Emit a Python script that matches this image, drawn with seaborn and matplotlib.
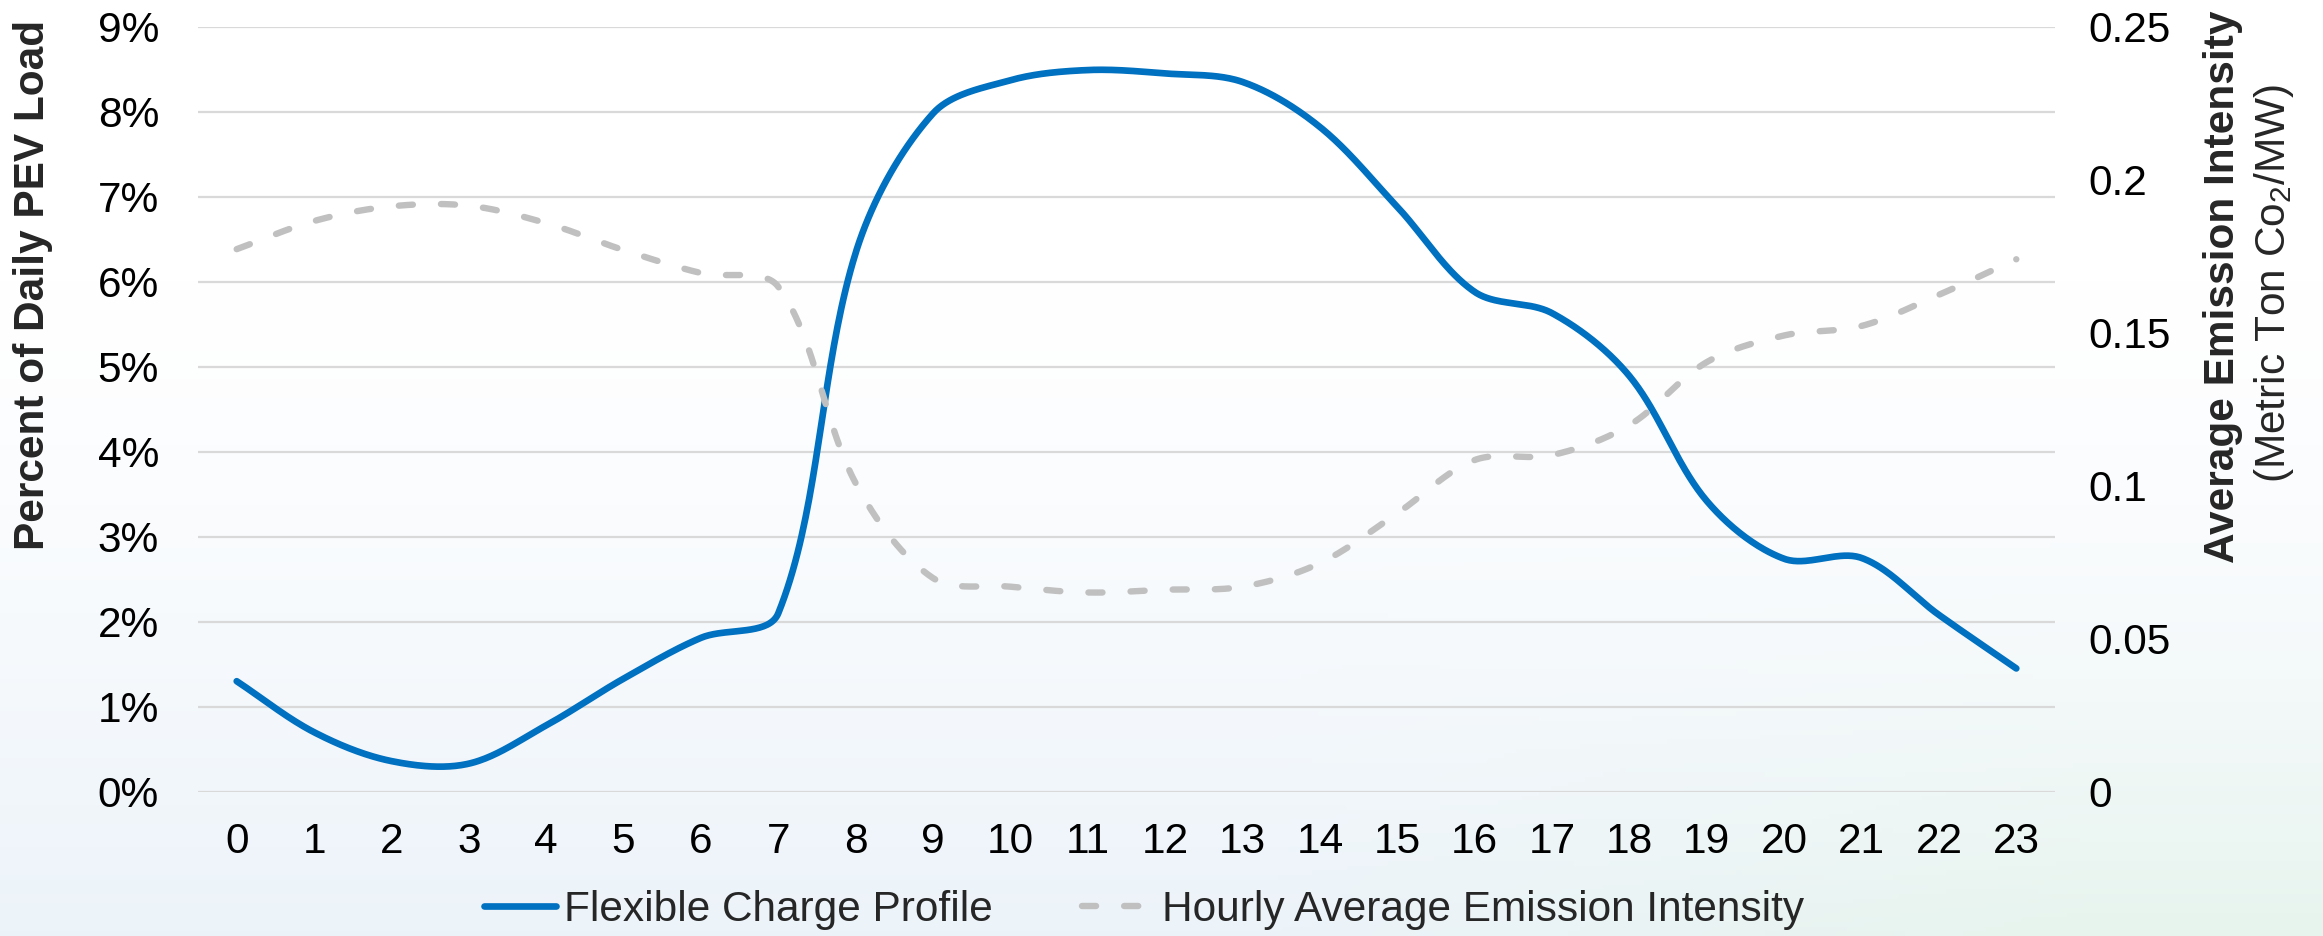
import numpy as np
import matplotlib
matplotlib.use("Agg")
import matplotlib.pyplot as plt
import seaborn as sns
from matplotlib.lines import Line2D
from matplotlib.ticker import FuncFormatter

# data
hours = list(range(24))
charge_pct = [1.30, 0.70, 0.36, 0.33, 0.78, 1.33, 1.81, 2.10, 6.34, 7.98, 8.37, 8.49,
              8.45, 8.35, 7.82, 6.88, 5.88, 5.63, 4.89, 3.42, 2.74, 2.75, 2.08, 1.45]
emission = [0.1773, 0.1865, 0.1913, 0.1915, 0.1858, 0.1770, 0.1695, 0.1650, 0.1008, 0.0698,
            0.0670, 0.0651, 0.0660, 0.0670, 0.0747, 0.0910, 0.1084, 0.1100, 0.1198, 0.1404,
            0.1491, 0.1522, 0.1624, 0.1740]
left_ticks = list(range(10))
right_ticks = [0, 0.05, 0.1, 0.15, 0.2, 0.25]
series_names = ["Flexible Charge Profile", "Hourly Average Emission Intensity"]

BLUE = "#0070C0"
GRAY = "#C0C0C0"
FS = 30.5
DASH = (2.2, 4.4)


def smooth(xv, yv, sx, sy, n=40):
    """Excel-like smoothed line: bezier segments with chord weighted tangents (screen space)"""
    p = np.column_stack([np.asarray(xv, float) * sx, np.asarray(yv, float) * sy])
    k = len(p)
    out = []
    for i in range(k - 1):
        p0 = p[max(i - 1, 0)]
        p1, p2 = p[i], p[i + 1]
        p3 = p[min(i + 2, k - 1)]
        l01 = np.linalg.norm(p1 - p0)
        l12 = np.linalg.norm(p2 - p1)
        l23 = np.linalg.norm(p3 - p2)
        w1 = l12 / (l01 + l12) if l01 + l12 > 0 else 0.5
        w2 = l12 / (l12 + l23) if l12 + l23 > 0 else 0.5
        c1 = p1 + (p2 - p0) * w1 / 3
        c2 = p2 - (p3 - p1) * w2 / 3
        t = np.linspace(0, 1, n)[:, None]
        seg = (1 - t) ** 3 * p1 + 3 * (1 - t) ** 2 * t * c1 + 3 * (1 - t) * t ** 2 * c2 + t ** 3 * p2
        out.append(seg if i == 0 else seg[1:])
    pts = np.vstack(out)
    return pts[:, 0] / sx, pts[:, 1] / sy


sns.set_style("white")
plt.rcParams["font.family"] = ["Liberation Sans", "DejaVu Sans"]
plt.rcParams["mathtext.fontset"] = "custom"
plt.rcParams["mathtext.rm"] = "Liberation Sans"
plt.rcParams["mathtext.it"] = "Liberation Sans:italic"

fig = plt.figure(figsize=(23.23, 9.36), dpi=100)
W, H = 2323, 936

# soft background wash
bg = fig.add_axes([0, 0, 1, 1], zorder=-10)
u = np.linspace(0, 1, 400)[None, :]
v = np.linspace(0, 1, 200)[:, None]
t = np.clip((v - 0.30) / 0.70, 0, 1) ** 1.3
g = np.clip((u - 0.55) / 0.35, 0, 1) * np.clip((v - 0.55) / 0.45, 0, 1)
blue_tint = np.array([0.925, 0.953, 0.978])
green_tint = np.array([0.905, 0.958, 0.930])
tint = blue_tint * (1 - g[..., None]) + green_tint * g[..., None]
img = (1 - t[..., None]) * 1.0 + t[..., None] * tint
bg.imshow(img, extent=[0, 1, 0, 1], aspect="auto", origin="upper")
bg.axis("off")

ax = fig.add_axes([198 / W, 1 - 791.7 / H, (2055 - 198) / W, (791.7 - 26.7) / H])
ax.set_facecolor("none")
ax2 = ax.twinx()
ax2.set_facecolor("none")

ax.set_xlim(-0.5, 23.5)
ax.set_ylim(0, 9)
ax2.set_ylim(0, 0.25)

ax_w = (2055 - 198)
ax_h = (791.7 - 26.7)
sx = ax_w / 24.0

xs, ys = smooth(hours, charge_pct, sx, ax_h / 9.0)
sns.lineplot(x=xs, y=ys, ax=ax, sort=False, estimator=None, color=BLUE,
             linewidth=4.8, solid_capstyle="round")
xs2, ys2 = smooth(hours, emission, sx, ax_h / 0.25)
sns.lineplot(x=xs2, y=ys2, ax=ax2, sort=False, estimator=None, color=GRAY,
             linewidth=4.6, dashes=False)
ax2.lines[0].set_dashes(DASH)
ax2.lines[0].set_dash_capstyle("round")

ax.set_xticks(hours)
ax.set_xticklabels([str(h) for h in hours])
ax.set_yticks(left_ticks)
ax.yaxis.set_major_formatter(FuncFormatter(lambda val, pos: f"{val:.0f}%"))
ax2.set_yticks(right_ticks)
ax2.yaxis.set_major_formatter(FuncFormatter(lambda val, pos: f"{val:g}"))

ax.grid(axis="y", color="#D9D9D9", linewidth=1.6)
ax.grid(axis="x", visible=False)
ax2.grid(False)
ax.set_axisbelow(True)
for a in (ax, ax2):
    for s in a.spines.values():
        s.set_visible(False)
ax.tick_params(axis="y", length=0, pad=28, labelsize=FS, labelcolor="black")
ax.tick_params(axis="x", length=0, pad=22, labelsize=FS, labelcolor="black")
ax2.tick_params(axis="y", length=0, pad=24, labelsize=FS, labelcolor="black")
ax.set_xlabel("")
ax.set_ylabel("")
ax2.set_ylabel("")

fig.text(33 / W, 1 - 285 / H, "Percent of Daily PEV Load", rotation=90,
         ha="center", va="center", fontsize=FS, fontweight="bold")
fig.text(2223 / W, 1 - 287 / H, "Average Emission Intensity", rotation=90,
         ha="center", va="center", fontsize=FS, fontweight="bold")
fig.text(2274 / W, 1 - 284 / H, "(Metric Ton Co$_2$/MW)", rotation=90,
         ha="center", va="center", fontsize=FS)

handles = [Line2D([], [], color=BLUE, linewidth=4.8, solid_capstyle="round"),
           Line2D([], [], color=GRAY, linewidth=4.6, dashes=DASH, dash_capstyle="round")]
fig.legend(handles, series_names, loc="center", bbox_to_anchor=(1144 / W, 1 - 910 / H),
           ncol=2, frameon=False, fontsize=FS, handlelength=1.7, handletextpad=0.2,
           columnspacing=2.1, borderaxespad=0)

fig.savefig("out.png", dpi=100)
